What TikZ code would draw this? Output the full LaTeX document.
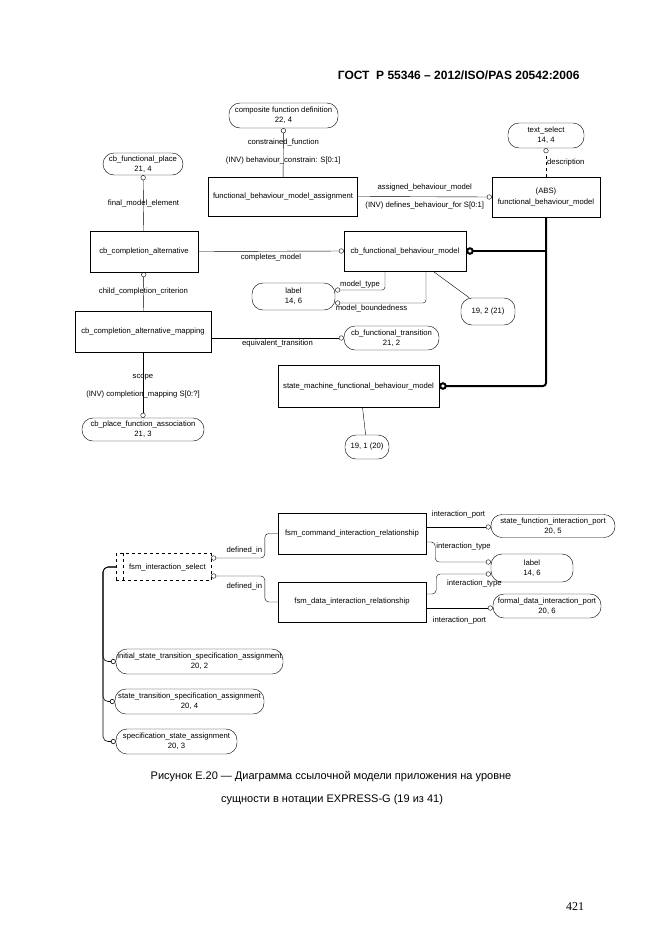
\documentclass[tikz,border=0pt]{standalone}
\usepackage{fontspec}
\setmainfont{Liberation Sans}
\newfontfamily\pagenofont{Liberation Serif}
\usetikzlibrary{arrows.meta}

\begin{document}
\begin{tikzpicture}[x=1pt, y=-1pt, every node/.style={font=\fontsize{7.7}{10.2}\selectfont, align=center},
  ent/.style={draw, rectangle, inner sep=1pt},
  refn/.style={draw, rounded corners=11pt, inner sep=1pt},
  lbl/.style={inner sep=1pt},
  rel/.style={-{Circle[open, length=5pt, width=5pt]}},
  spine/.style={line width=2pt, rounded corners=3pt, -{Circle[open, length=7.5pt, width=7.5pt]}},
  tree/.style={semithick, rounded corners=5pt, -{Circle[open, length=5pt, width=5pt]}}]
  \fill[white] (0,0) rectangle (662,935);
  \useasboundingbox (0,0) rectangle (662,935);
  % page header, caption and number
  \node[font=\bfseries\fontsize{12}{14}\selectfont, anchor=east] (hdr) at (583,75) {ГОСТ~~Р 55346 – 2012/ISO/PAS 20542:2006};
  \node[font=\fontsize{11}{13}\selectfont] (cap1) at (331,777) {Рисунок Е.20 — Диаграмма ссылочной модели приложения на уровне};
  \node[font=\fontsize{11}{13}\selectfont] (cap2) at (332,800) {сущности в нотации EXPRESS-G (19 из 41)};
  \node[font=\pagenofont\fontsize{12}{14}\selectfont] (pgno) at (575,907) {421};
  % upper diagram: behaviour models
  \node[refn, minimum width=109pt, minimum height=25pt] (cfd)    at (283.5,115.5) {composite function definition\\22, 4};
  \node[ent,  minimum width=149pt, minimum height=39pt] (fbma)   at (283,196.5)   {functional\_behaviour\_model\_assignment};
  \node[refn, minimum width=76pt,  minimum height=25pt] (txtsel) at (546,135.5)   {text\_select\\14, 4};
  \node[ent,  minimum width=108pt, minimum height=40pt] (fbm)    at (546,197)     {(ABS)\\functional\_behaviour\_model};
  \node[refn, minimum width=80pt,  minimum height=22pt] (cbfp)   at (143,164)     {cb\_functional\_place\\21, 4};
  \node[ent,  minimum width=108pt, minimum height=41pt] (cbca)   at (144,251.5)   {cb\_completion\_alternative};
  \node[ent,  minimum width=122pt, minimum height=40pt] (cbfbm)  at (405,251)     {cb\_functional\_behaviour\_model};
  \node[refn, minimum width=83pt,  minimum height=27pt] (lab1)   at (293.5,296.5) {label\\14, 6};
  \node[refn, minimum width=54pt,  minimum height=27pt] (r192)   at (488,311.5)   {19, 2 (21)};
  \node[ent,  minimum width=136pt, minimum height=41pt] (cbcam)  at (143,331.5)   {cb\_completion\_alternative\_mapping};
  \node[refn, minimum width=95pt,  minimum height=24pt] (cbft)   at (391.5,338)   {cb\_functional\_transition\\21, 2};
  \node[ent,  minimum width=161pt, minimum height=42pt] (smfbm)  at (358.5,386)   {state\_machine\_functional\_behaviour\_model};
  \node[refn, minimum width=44pt,  minimum height=24pt] (r191)   at (367,447)     {19, 1 (20)};
  \node[refn, minimum width=122pt, minimum height=23pt] (cbpfa)  at (143,429.5)   {cb\_place\_function\_association\\21, 3};
  \draw[rel] (fbma) -- node[lbl, pos=0.34] {(INV) behaviour\_constrain: S[0:1]} node[lbl, pos=0.71] {constrained\_function} (cfd);
  \draw[rel] (fbma.east) -- node[lbl, above=4pt] {assigned\_behaviour\_model} node[lbl, below=4pt] {(INV) defines\_behaviour\_for S[0:1]} (fbm.west);
  \draw[rel, dashed] (fbm.north) -- node[lbl, right, pos=0.5] {description} (txtsel.south);
  \draw[spine] (fbm.south) |- (smfbm.east);
  \draw[spine] (fbm.south |- cbfbm.east) -- (cbfbm.east);
  \draw[rel] (cbca) -- node[lbl, pos=0.5] {final\_model\_element} (cbfp);
  \draw[rel] (cbca.east) -- node[lbl, below=1pt] {completes\_model} (cbfbm.west);
  \draw[rel] (cbcam) -- node[lbl, pos=0.5] {child\_completion\_criterion} (cbca);
  \draw[rel] (cbcam.east |- cbft) -- node[lbl, below=1pt] {equivalent\_transition} (cbft.west);
  \draw[rel] (cbcam) -- node[lbl, pos=0.38] {scope} node[lbl, pos=0.65] {(INV) completion\_mapping S[0:?]} (cbpfa);
  \draw[rel, rounded corners=3pt] ([xshift=-20pt]cbfbm.south) |- node[lbl, above=1pt, pos=0.75] {model\_type} ([yshift=6.5pt]lab1.east);
  \draw[rel, rounded corners=3pt] ([xshift=21pt]cbfbm.south) |- node[lbl, below=1pt, pos=0.8] {model\_boundedness} ([yshift=-6.5pt]lab1.east);
  \draw ([xshift=28pt]cbfbm.south) -- (r192);
  \draw ([xshift=4pt]smfbm.south) -- (r191);
  % lower diagram: interaction select
  \node[ent, dashed, minimum width=95pt, minimum height=27pt] (fsmsel) at (163.5,567) {\quad fsm\_interaction\_select};
  \draw[dashed] ([xshift=7pt]fsmsel.north west) -- ([xshift=7pt]fsmsel.south west);
  \node[ent,  minimum width=148pt, minimum height=41pt] (fsmcmd)  at (352,533.5) {fsm\_command\_interaction\_relationship};
  \node[ent,  minimum width=148pt, minimum height=40pt] (fsmdata) at (352,602)   {fsm\_data\_interaction\_relationship};
  \node[refn, minimum width=124pt, minimum height=23pt] (sfip)    at (553,526)   {state\_function\_interaction\_port\\20, 5};
  \node[refn, minimum width=82pt,  minimum height=28pt] (lab2)    at (532,568)   {label\\14, 6};
  \node[refn, minimum width=108pt, minimum height=24pt] (fdip)    at (547,606)   {formal\_data\_interaction\_port\\20, 6};
  \node[refn, minimum width=167pt, minimum height=25pt] (istsa)   at (199.5,661.5) {initial\_state\_transition\_specification\_assignment\\20, 2};
  \node[refn, minimum width=149pt, minimum height=25pt] (tsa)     at (189.5,701.5) {state\_transition\_specification\_assignment\\20, 4};
  \node[refn, minimum width=121pt, minimum height=25pt] (ssa)     at (176.5,741.5) {specification\_state\_assignment\\20, 3};
  \coordinate (trunk) at (103,567);
  \draw[rel, rounded corners=4pt] (fsmcmd.west) -- ++(-13,0) |- node[lbl, above=3pt, pos=0.69] {defined\_in} ([yshift=9pt]fsmsel.east);
  \draw[rel, rounded corners=4pt] (fsmdata.west) -- ++(-13,0) |- node[lbl, below=6pt, pos=0.69] {defined\_in} ([yshift=-9pt]fsmsel.east);
  \draw[rel] ([yshift=6.5pt]fsmcmd.east) -- node[lbl, above=8pt] {interaction\_port} ([yshift=6.5pt]fsmcmd.east -| sfip.west);
  \draw[rel, rounded corners=4pt] ([yshift=-8.5pt]fsmcmd.east) -- ++(9,0) |- node[lbl, right, pos=0.12] {interaction\_type} ([yshift=6pt]lab2.west);
  \draw[rel, rounded corners=4pt] ([yshift=8pt]fsmdata.east) -- ++(10,0) |- node[lbl, below=5pt, pos=0.85] {interaction\_type} ([yshift=-6pt]lab2.west);
  \draw[rel] ([yshift=-6pt]fsmdata.east) -- node[lbl, below=8pt] {interaction\_port} ([yshift=-6pt]fsmdata.east -| fdip.west);
  \draw[tree] (fsmsel.west) -- (trunk) |- (istsa.west);
  \draw[tree] (fsmsel.west) -- (trunk) |- (tsa.west);
  \draw[tree] (fsmsel.west) -- (trunk) |- (ssa.west);
\end{tikzpicture}
\end{document}
